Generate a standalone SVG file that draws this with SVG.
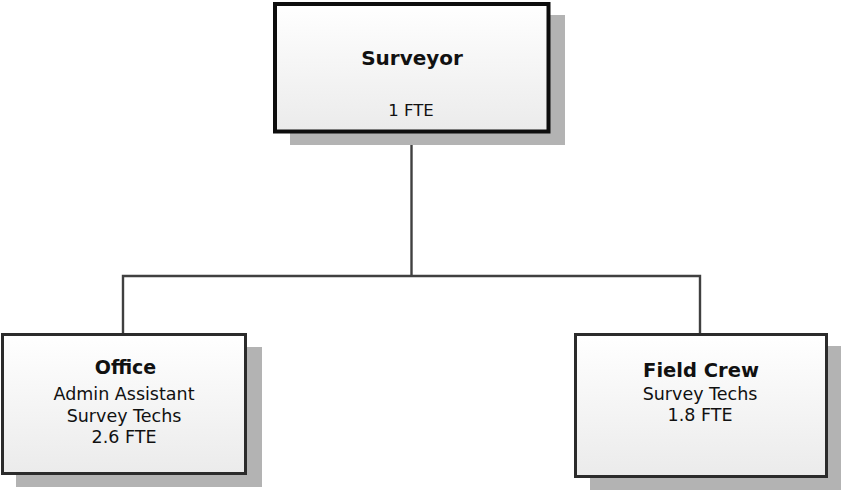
<svg xmlns="http://www.w3.org/2000/svg" width="841" height="490" viewBox="0 0 841 490">
  <defs>
    <linearGradient id="fill" x1="0" y1="0" x2="0" y2="1">
      <stop offset="0" stop-color="#ffffff"/>
      <stop offset="1" stop-color="#ebebeb"/>
    </linearGradient>
  </defs>
  <style>
    .shadow { fill: #b3b3b3; }
    .box { fill: url(#fill); stroke: #2b2b2b; stroke-width: 3; }
    .top { stroke: #0d0d0d; stroke-width: 4; }
    .conn { fill: none; stroke: #404040; stroke-width: 2.4; }
    text { font-family: "DejaVu Sans", sans-serif; fill: #111; text-anchor: middle; }
    .title { font-weight: bold; font-size: 20px; }
    .body { font-size: 17.5px; }
  </style>
  <rect width="841" height="490" fill="#ffffff"/>
  <g id="connectors">
    <path class="conn" d="M411.5 131 V276"/>
    <path class="conn" d="M123 333 V276 H700 V333"/>
  </g>
  <g id="surveyor">
    <rect class="shadow" x="290" y="15" width="275" height="130"/>
    <rect class="box top" x="275" y="4" width="273.5" height="127.5"/>
    <text class="title" x="412" y="64.5">Surveyor</text>
    <text class="body" x="411" y="116" style="font-size:16.5px">1 FTE</text>
  </g>
  <g id="office">
    <rect class="shadow" x="16" y="347" width="246" height="140"/>
    <rect class="box" x="2.5" y="334.5" width="243" height="139"/>
    <text class="title" x="125.5" y="373.5" style="font-size:19px">Office</text>
    <text class="body" x="124" y="400">Admin Assistant</text>
    <text class="body" x="124" y="421.5">Survey Techs</text>
    <text class="body" x="124" y="443">2.6 FTE</text>
  </g>
  <g id="field-crew">
    <rect class="shadow" x="590" y="346" width="251" height="144"/>
    <rect class="box" x="575.5" y="334.5" width="251" height="142"/>
    <text class="title" x="701" y="376.5" style="font-size:19.5px">Field Crew</text>
    <text class="body" x="700" y="400">Survey Techs</text>
    <text class="body" x="700" y="421">1.8 FTE</text>
  </g>
</svg>
